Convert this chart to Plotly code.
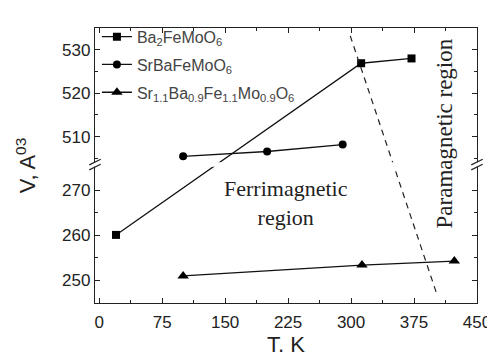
import plotly.graph_objects as go

# ---------------- data ----------------
ba_T = [20, 312, 372]
ba_V = [260.1, 526.9, 528.0]
srba_T = [100, 200, 290]
srba_V = [505.5, 506.6, 508.2]
sr11_T = [100, 313, 423]
sr11_V = [251.0, 253.4, 254.3]

series_names = [
    "Ba<sub>2</sub>FeMoO<sub>6</sub>",
    "SrBaFeMoO<sub>6</sub>",
    "Sr<sub>1.1</sub>Ba<sub>0.9</sub>Fe<sub>1.1</sub>Mo<sub>0.9</sub>O<sub>6</sub>",
]
series_symbols = ["square", "circle", "triangle-up"]

# phase boundary (dashed guide line)
pb_T = [299, 403]
pb_V = [533.2, 246.5]

x_ticks = [0, 75, 150, 225, 300, 375, 450]
y_ticks = [250, 260, 270, 510, 520, 530]
y_minor = [255, 265, 505, 515, 525]

# ---------------- broken y axis ----------------
BOT_LO, BOT_HI = 245.0, 275.7
TOP_LO, TOP_HI = 503.6, 535.0
K = 0.9646  # scale of upper segment relative to lower segment


def brk(v):
    return v if v <= BOT_HI + 1e-9 else BOT_HI + (v - TOP_LO) * K


def brk_list(vals):
    return [brk(v) for v in vals]


fig = go.Figure()

for i, (T, V, name, sym, size) in enumerate(zip(
    [ba_T, srba_T, sr11_T],
    [ba_V, srba_V, sr11_V],
    series_names,
    series_symbols,
    [8, 8, 10],
)):
    fig.add_trace(
        go.Scatter(
            x=T,
            y=brk_list(V),
            customdata=V,
            hovertemplate="T=%{x} K<br>V=%{customdata}<extra></extra>",
            mode="lines+markers",
            name=name,
            legendgroup=f"g{i}",
            line=dict(color="#111", width=1.3),
            marker=dict(symbol=sym, size=size, color="#000"),
        )
    )

fig.add_trace(
    go.Scatter(
        x=pb_T,
        y=brk_list(pb_V),
        mode="lines",
        line=dict(color="#222", width=1.2, dash="6px,5px"),
        showlegend=False,
        hoverinfo="skip",
    )
)

B = BOT_HI
shapes = [
    dict(type="rect", xref="paper", yref="y", x0=-0.03, x1=1.03,
         y0=B - 0.5, y1=B + 0.5, fillcolor="white", line=dict(width=0),
         layer="above"),
]
for xc in (0.0, 1.0):
    for off in (0.55, -0.55):
        shapes.append(dict(type="line", xref="paper", yref="y",
                           x0=xc - 0.015, x1=xc + 0.015,
                           y0=B + off - 0.62, y1=B + off + 0.62,
                           line=dict(color="#222", width=1.2), layer="above"))

fig.update_layout(
    width=495,
    height=352,
    margin=dict(l=87, r=18, t=13, b=47),
    paper_bgcolor="white",
    plot_bgcolor="white",
    font=dict(family="Liberation Sans, Arial, sans-serif", color="#222", size=17),
    showlegend=True,
    legend=dict(
        x=0.005, y=1.03, xanchor="left", yanchor="top",
        bgcolor="rgba(0,0,0,0)",
        font=dict(size=16, color="#444"),
        itemwidth=30,
        tracegroupgap=4,
    ),
    xaxis=dict(
        range=[-5, 450],
        tickvals=x_ticks,
        ticktext=[str(v) for v in x_ticks],
        ticks="inside", ticklen=5, tickwidth=1.2, tickcolor="#222",
        minor=dict(tickvals=[37.5 + 75 * i for i in range(6)], ticks="inside",
                   ticklen=3, tickwidth=1.2, tickcolor="#222"),
        showline=True, linecolor="#222", linewidth=1.3, mirror="ticks",
        showgrid=False, zeroline=False,
        title=dict(text="T, K", font=dict(size=22), standoff=1),
        tickfont=dict(size=17),
        ticklabelstandoff=3,
    ),
    yaxis=dict(
        range=[BOT_LO, brk(TOP_HI)],
        tickvals=brk_list(y_ticks),
        ticktext=[str(v) for v in y_ticks],
        ticks="inside", ticklen=5, tickwidth=1.2, tickcolor="#222",
        minor=dict(tickvals=brk_list(y_minor), ticks="inside",
                   ticklen=3, tickwidth=1.2, tickcolor="#222"),
        showline=True, linecolor="#222", linewidth=1.3, mirror="ticks",
        showgrid=False, zeroline=False,
        title=dict(text="V, A<sup>03</sup>", font=dict(size=22), standoff=20),
        tickfont=dict(size=17),
    ),
    shapes=shapes,
    annotations=[
        dict(xref="paper", yref="paper", x=0.5, y=0.363,
             text="Ferrimagnetic<br>region", showarrow=False,
             font=dict(family="Liberation Serif, Times New Roman, serif",
                       size=22, color="#222"),
             align="center"),
        dict(xref="paper", yref="paper", x=0.953, y=0.615,
             text="Paramagnetic region", showarrow=False, textangle=-90,
             font=dict(family="Liberation Serif, Times New Roman, serif",
                       size=23, color="#222")),
    ],
)

fig.write_html("out.html", config={"displayModeBar": False})
